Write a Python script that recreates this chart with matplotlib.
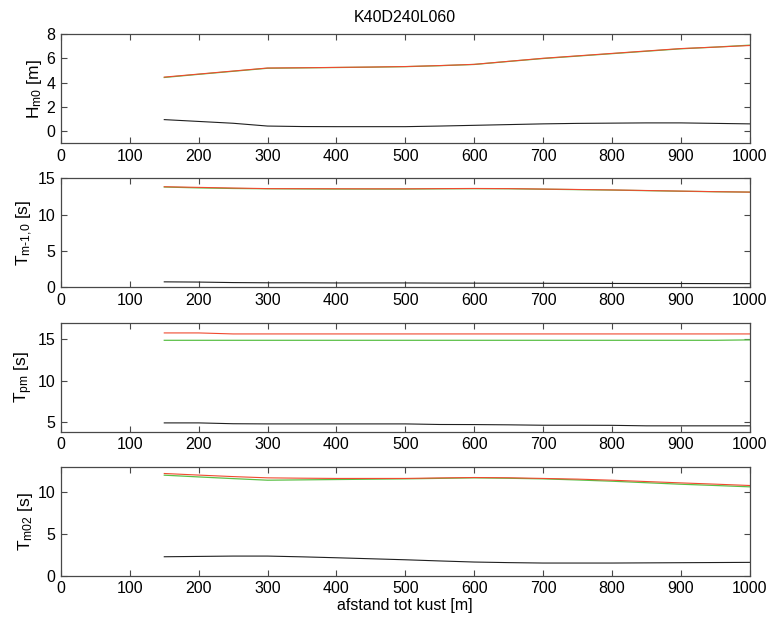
import matplotlib
matplotlib.use("Agg")
import matplotlib.pyplot as plt

plt.rcParams['font.family'] = ['Liberation Sans', 'DejaVu Sans']
plt.rcParams['mathtext.fontset'] = 'custom'
plt.rcParams['mathtext.rm'] = 'Liberation Sans'
plt.rcParams['mathtext.it'] = 'Liberation Sans'

# distance to coast [m]
afstand = [150, 200, 250, 300, 350, 400, 450, 500, 550, 600, 650, 700, 750, 800, 850, 900, 950, 1000]

hm0_red   = [4.45, 4.70, 4.95, 5.20, 5.22, 5.25, 5.28, 5.32, 5.40, 5.50, 5.75, 6.00, 6.20, 6.40, 6.60, 6.80, 6.92, 7.05]
hm0_green = [4.42, 4.68, 4.93, 5.18, 5.21, 5.24, 5.27, 5.31, 5.39, 5.49, 5.74, 5.98, 6.18, 6.38, 6.58, 6.78, 6.92, 7.08]
hm0_black = [0.95, 0.80, 0.65, 0.42, 0.38, 0.37, 0.37, 0.37, 0.42, 0.48, 0.54, 0.60, 0.64, 0.66, 0.68, 0.68, 0.64, 0.60]

tm10_red   = [13.84, 13.75, 13.66, 13.58, 13.57, 13.56, 13.55, 13.55, 13.58, 13.60, 13.58, 13.52, 13.46, 13.40, 13.32, 13.24, 13.16, 13.10]
tm10_green = [13.80, 13.68, 13.60, 13.56, 13.54, 13.52, 13.52, 13.52, 13.55, 13.57, 13.56, 13.50, 13.44, 13.38, 13.30, 13.22, 13.15, 13.10]
tm10_black = [0.75, 0.72, 0.65, 0.62, 0.62, 0.60, 0.60, 0.60, 0.58, 0.57, 0.56, 0.55, 0.54, 0.53, 0.52, 0.52, 0.51, 0.50]

tpm_red   = [15.68, 15.68, 15.56, 15.56, 15.56, 15.56, 15.56, 15.56, 15.56, 15.56, 15.56, 15.56, 15.56, 15.56, 15.56, 15.56, 15.56, 15.56]
tpm_green = [14.80, 14.80, 14.80, 14.80, 14.80, 14.80, 14.80, 14.80, 14.80, 14.80, 14.80, 14.80, 14.80, 14.80, 14.80, 14.80, 14.80, 14.85]
tpm_black = [4.95, 4.95, 4.85, 4.83, 4.83, 4.83, 4.83, 4.83, 4.76, 4.75, 4.72, 4.67, 4.67, 4.66, 4.60, 4.60, 4.60, 4.60]

tm02_red   = [12.19, 12.00, 11.82, 11.67, 11.63, 11.60, 11.60, 11.60, 11.66, 11.71, 11.68, 11.60, 11.52, 11.39, 11.23, 11.07, 10.92, 10.76]
tm02_green = [11.99, 11.78, 11.58, 11.39, 11.43, 11.47, 11.51, 11.55, 11.61, 11.67, 11.62, 11.55, 11.42, 11.27, 11.09, 10.91, 10.76, 10.60]
tm02_black = [2.26, 2.30, 2.34, 2.34, 2.25, 2.14, 2.02, 1.90, 1.76, 1.63, 1.56, 1.51, 1.51, 1.51, 1.53, 1.55, 1.57, 1.59]

ylabels = [r'H$_{\mathrm{m0}}$ [m]', r'T$_{\mathrm{m\text{-}1{,}0}}$ [s]', r'T$_{\mathrm{pm}}$ [s]', r'T$_{\mathrm{m02}}$ [s]']
ylims = [(-1, 8), (0, 15), (3.9, 16.9), (0, 13)]
yticks = [[0, 2, 4, 6, 8], [0, 5, 10, 15], [5, 10, 15], [0, 5, 10]]
xticks = list(range(0, 1001, 100))

series = [
    (hm0_red, hm0_green, hm0_black),
    (tm10_red, tm10_green, tm10_black),
    (tpm_red, tpm_green, tpm_black),
    (tm02_red, tm02_green, tm02_black),
]

RED = '#f04a30'
GREEN = '#5cc048'
BLACK = '#202020'
SPINE = '#484848'

fig = plt.figure(figsize=(7.68, 6.18), dpi=100)
W, H = 768, 618
left, right = 61, 749.5
tops = [34, 178.3, 322.7, 466.7]
bottoms = [143.3, 287.3, 431.7, 575.7]

for i, (red, green, black) in enumerate(series):
    ax = fig.add_axes([left / W, 1 - bottoms[i] / H, (right - left) / W, (bottoms[i] - tops[i]) / H])
    ax.plot(afstand, black, color=BLACK, lw=0.8)
    ax.plot(afstand, green, color=GREEN, lw=0.9)
    ax.plot(afstand, red, color=RED, lw=0.8)
    ax.set_xlim(0, 1000)
    ax.set_ylim(*ylims[i])
    ax.set_xticks(xticks)
    ax.set_yticks(yticks[i])
    ax.tick_params(direction='in', top=True, right=True, length=4, width=0.8,
                   color=SPINE, labelsize=11.5, pad=4)
    for s in ax.spines.values():
        s.set_color(SPINE)
        s.set_linewidth(0.9)
    ax.set_ylabel(ylabels[i], fontsize=12.5, labelpad=2)
    if i == 0:
        ax.set_title('K40D240L060', fontsize=11.5, pad=9)
    if i == 3:
        ax.set_xlabel('afstand tot kust [m]', fontsize=11.5, labelpad=1)

fig.savefig('out.png', dpi=100)
